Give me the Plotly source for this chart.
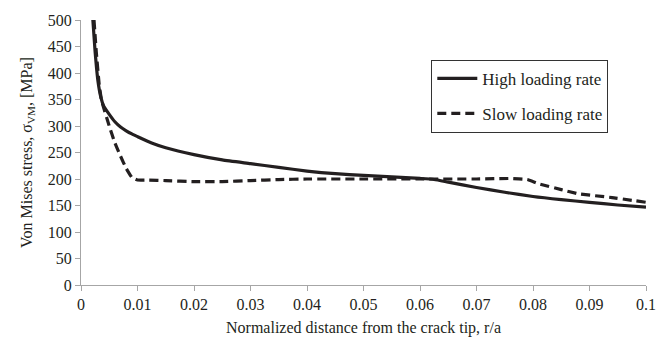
import plotly.graph_objects as go

# High loading rate (solid)
x_high = [0.0021, 0.0025, 0.0030, 0.0035, 0.0040, 0.0050, 0.0060, 0.0070, 0.0080, 0.0090, 0.0100,
          0.0125, 0.0150, 0.0200, 0.0250, 0.0300, 0.0350, 0.0400, 0.0450, 0.0500, 0.0550,
          0.0600, 0.0625, 0.0650, 0.0700, 0.0750, 0.0800, 0.0850, 0.0900, 0.0950, 0.1000]
y_high = [500, 440, 385, 355, 338, 322, 308, 298, 291, 285, 280,
          268, 259, 246, 236, 229, 222, 215, 210, 207, 204,
          201, 199, 194, 184, 175, 167, 161, 156, 151, 147]

# Slow loading rate (dashed)
x_slow = [0.0023, 0.0027, 0.0032, 0.0036, 0.0040, 0.0050, 0.0060, 0.0070, 0.0080, 0.0090, 0.0100,
          0.0120, 0.0150, 0.0200, 0.0250, 0.0300, 0.0350, 0.0400, 0.0500, 0.0600, 0.0700,
          0.0760, 0.0790, 0.0810, 0.0850, 0.0880, 0.0940, 0.1000]
y_slow = [500, 440, 380, 350, 335, 300, 268, 243, 220, 203, 198,
          198, 197, 195, 195, 197, 199, 200, 200, 200, 200,
          201, 199, 191, 180, 172, 165, 156]

x_ticks = [0, 0.01, 0.02, 0.03, 0.04, 0.05, 0.06, 0.07, 0.08, 0.09, 0.1]
x_tick_labels = ["0", "0.01", "0.02", "0.03", "0.04", "0.05", "0.06", "0.07", "0.08", "0.09", "0.1"]
y_ticks = [0, 50, 100, 150, 200, 250, 300, 350, 400, 450, 500]

font_family = "Liberation Serif"
ink = "#231f20"

fig = go.Figure()
fig.add_trace(go.Scatter(x=x_high, y=y_high, mode="lines", name="High loading rate",
                         legendgroup="a",
                         line=dict(color=ink, width=3.2, shape="spline", smoothing=0.5)))
fig.add_trace(go.Scatter(x=x_slow, y=y_slow, mode="lines", name="Slow loading rate",
                         legendgroup="b",
                         line=dict(color=ink, width=3.2, dash="9px,5px", shape="spline", smoothing=0.25)))

fig.update_layout(
    width=672, height=345,
    margin=dict(l=81, r=26, t=17, b=59),
    paper_bgcolor="white", plot_bgcolor="white",
    font=dict(family=font_family, size=16, color=ink),
    showlegend=True,
    legend=dict(x=0.62, y=0.85, xanchor="left", yanchor="top",
                bordercolor="#333333", borderwidth=1, bgcolor="white",
                font=dict(size=17, family=font_family, color=ink),
                traceorder="grouped", tracegroupgap=10, itemwidth=40),
    xaxis=dict(range=[0, 0.1], tickvals=x_ticks, ticktext=x_tick_labels,
               showgrid=False, zeroline=False, showline=True, linecolor="#a6a6a6", linewidth=1,
               ticks="outside", ticklen=5, tickcolor="#a6a6a6",
               tickfont=dict(size=16, family=font_family, color=ink),
               title=dict(text="Normalized distance from the crack tip, r/a", standoff=9,
                          font=dict(size=16, family=font_family, color=ink))),
    yaxis=dict(range=[0, 500], tickvals=y_ticks,
               showgrid=False, zeroline=False, showline=True, linecolor="#a6a6a6", linewidth=1,
               ticks="outside", ticklen=5, tickcolor="#a6a6a6",
               tickfont=dict(size=16, family=font_family, color=ink),
               title=dict(text="Von Mises stress, σ<sub>VM</sub>, [MPa]", standoff=11,
                          font=dict(size=16, family=font_family, color=ink))),
)

fig.write_html("out.html")
